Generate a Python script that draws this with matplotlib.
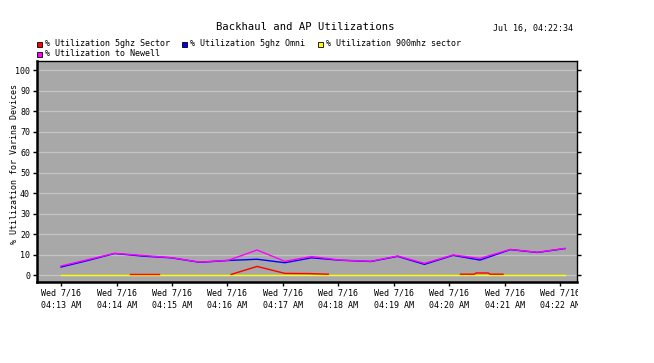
import numpy as np
import matplotlib
matplotlib.use("Agg")
import matplotlib.pyplot as plt
from matplotlib.patches import Rectangle
from matplotlib.transforms import Bbox, TransformedBbox

# ---- data (seconds after 04:13:00) ----
t_main = [0, 29, 58, 89, 119, 150, 181, 212, 242, 271, 302, 335, 364, 393, 424, 453, 486, 515, 545]
newell = [4.4, 7.5, 10.6, 9.5, 8.5, 6.3, 7.2, 12.2, 6.7, 9.0, 7.3, 6.7, 9.3, 5.7, 9.8, 8.1, 12.5, 11.1, 13.0]
omni = [3.9, 7.1, 10.5, 9.2, 8.4, 6.2, 7.1, 7.7, 6.0, 8.4, 7.2, 6.6, 9.1, 5.2, 9.6, 7.3, 12.4, 11.0, 12.9]
mhz900 = [0] * len(t_main)

t_sector_a = [75, 106]
sector_a = [0.4, 0.4]
t_sector_b = [184, 212, 242, 269, 289]
sector_b = [0.3, 4.2, 0.8, 0.7, 0.4]
t_sector_c = [432, 447, 449, 462, 464, 478]
sector_c = [0.4, 0.4, 1.0, 1.0, 0.4, 0.4]

tick_secs = [0, 60, 120, 180, 240, 300, 360, 420, 480, 540]
tick_labels = ["Wed 7/16\n04:%02d AM" % m for m in range(13, 23)]
y_ticks = list(range(0, 101, 10))

series_labels = ["% Utilization 5ghz Sector", "% Utilization 5ghz Omni",
                 "% Utilization 900mhz sector", "% Utilization to Newell"]
series_colors = ["#FF0000", "#0000FF", "#FFFF00", "#FF00FF"]

W, H = 654, 363
fig = plt.figure(figsize=(W / 100, H / 100), dpi=100)
fig.patch.set_facecolor("white")

def fx(px):
    return px / W

def fy(py):
    return 1 - py / H

ax = fig.add_axes([fx(37), fy(282), fx(577) - fx(37), fy(61) - fy(282)])
ax.set_facecolor("#A8A8A8")
ax.set_xlim(-26, 558)
ax.set_ylim(-3.4, 104.4)

for y in y_ticks:
    ax.axhline(y, color="#C4C4C4", lw=0.9, zorder=1)

lw = 1.0
ax.plot(t_main, mhz900, color=series_colors[2], lw=lw, zorder=3)
ax.plot(t_sector_a, sector_a, color=series_colors[0], lw=lw, zorder=3)
ax.plot(t_sector_b, sector_b, color=series_colors[0], lw=lw, zorder=3)
ax.plot(t_sector_c, sector_c, color=series_colors[0], lw=lw, zorder=3)
ax.plot(t_main, omni, color=series_colors[1], lw=lw, zorder=4)
ax.plot(t_main, newell, color=series_colors[3], lw=lw, zorder=5)

font = "DejaVu Sans Mono"
small = 6.0

ax.set_yticks(y_ticks)
ax.set_yticklabels([str(v) for v in y_ticks], fontsize=small, family=font)
ax.set_xticks(tick_secs)
ax.set_xticklabels(tick_labels, fontsize=small, family=font, linespacing=1.5)
ax.tick_params(axis="both", direction="out", length=3, width=1, color="black", pad=2)
ax.tick_params(axis="y", right=True)

clip = TransformedBbox(Bbox([[0, 0], [fx(578), 1]]), fig.transFigure)
for lbl in ax.get_xticklabels():
    lbl.set_clip_on(True)
    lbl.set_clip_box(clip)

for side in ["left", "bottom"]:
    ax.spines[side].set_linewidth(1.8)
for side in ["top", "right"]:
    ax.spines[side].set_linewidth(1.0)

ax.set_ylabel("% Utilization for Varina Devices", fontsize=small, family=font)
ax.yaxis.set_label_coords((19.5 - 37) / 540, 0.536)

fig.text(fx(305), fy(27), "Backhaul and AP Utilizations", ha="center", va="center",
         fontsize=7.6, family=font)
fig.text(fx(493), fy(28), "Jul 16, 04:22:34", ha="left", va="center",
         fontsize=small, family=font)

leg_pos = [(37, 44), (182, 44), (318, 44), (37, 54)]
for (px, py), lab, col in zip(leg_pos, series_labels, series_colors):
    fig.patches.append(Rectangle((fx(px), fy(py + 3)), 5 / W, 5 / H, transform=fig.transFigure,
                                 facecolor=col, edgecolor="black", lw=0.6))
    fig.text(fx(px + 8), fy(py), lab, ha="left", va="center", fontsize=small, family=font)

fig.savefig("out.png", dpi=100)
